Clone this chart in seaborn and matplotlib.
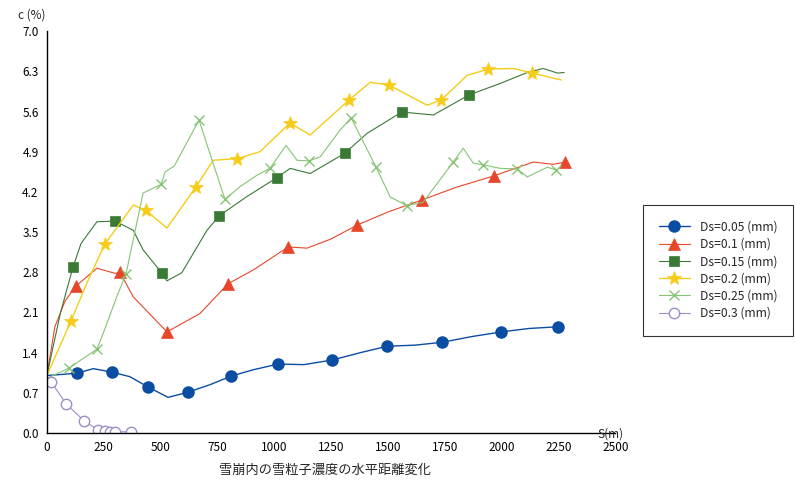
import numpy as np
import pandas as pd
import matplotlib
matplotlib.use("Agg")
import matplotlib.pyplot as plt
import seaborn as sns

# distance S (m) and concentration c (%)
s_005 = [0, 132, 204, 286, 365, 445, 533, 621, 717, 810, 907, 1016, 1130, 1254, 1380, 1496, 1620, 1739, 1870, 1998, 2120, 2249]
c_005 = [1.00, 1.04, 1.12, 1.06, 0.98, 0.80, 0.62, 0.71, 0.84, 0.99, 1.10, 1.20, 1.19, 1.27, 1.40, 1.51, 1.53, 1.58, 1.68, 1.76, 1.82, 1.85]
m_005 = [1, 3, 5, 7, 9, 11, 13, 15, 17, 19, 21]

s_01 = [0, 35, 80, 128, 220, 300, 321, 380, 528, 673, 797, 908, 1061, 1144, 1250, 1364, 1500, 1650, 1800, 1967, 2139, 2227, 2280]
c_01 = [1.00, 1.85, 2.30, 2.56, 2.87, 2.78, 2.80, 2.37, 1.76, 2.08, 2.60, 2.84, 3.24, 3.22, 3.38, 3.62, 3.85, 4.06, 4.28, 4.48, 4.72, 4.68, 4.72]
m_01 = [3, 6, 8, 10, 12, 15, 17, 19, 22]

s_015 = [0, 60, 115, 150, 220, 300, 380, 423, 507, 528, 593, 704, 757, 880, 1013, 1070, 1158, 1309, 1408, 1540, 1563, 1700, 1857, 1994, 2113, 2183, 2245, 2275]
c_015 = [1.00, 2.10, 2.89, 3.30, 3.68, 3.69, 3.53, 3.19, 2.78, 2.65, 2.79, 3.53, 3.78, 4.12, 4.45, 4.61, 4.52, 4.87, 5.22, 5.54, 5.59, 5.54, 5.89, 6.09, 6.28, 6.35, 6.27, 6.28]
m_015 = [2, 5, 8, 12, 14, 17, 20, 22]

s_02 = [0, 106, 180, 255, 380, 435, 528, 656, 731, 838, 937, 1069, 1158, 1329, 1422, 1505, 1672, 1734, 1848, 1941, 2052, 2135, 2262]
c_02 = [1.00, 1.95, 2.65, 3.29, 3.97, 3.88, 3.57, 4.29, 4.75, 4.78, 4.90, 5.40, 5.19, 5.80, 6.11, 6.06, 5.71, 5.80, 6.23, 6.34, 6.35, 6.27, 6.15]
m_02 = [1, 3, 5, 7, 9, 11, 13, 15, 17, 19, 21]

s_025 = [0, 97, 220, 248, 307, 348, 423, 502, 520, 560, 669, 783, 849, 924, 981, 1052, 1100, 1153, 1202, 1290, 1338, 1448, 1510, 1584, 1655, 1787, 1831, 1875, 1919, 1994, 2069, 2113, 2201, 2240]
c_025 = [0.95, 1.13, 1.46, 1.74, 2.37, 2.77, 4.18, 4.33, 4.55, 4.65, 5.45, 4.07, 4.29, 4.49, 4.61, 5.01, 4.75, 4.74, 4.81, 5.28, 5.49, 4.63, 4.11, 3.96, 4.02, 4.72, 4.96, 4.70, 4.67, 4.61, 4.60, 4.46, 4.63, 4.58]
m_025 = [1, 2, 5, 7, 10, 11, 14, 17, 20, 21, 23, 25, 28, 30, 33]

s_03 = [0, 20, 86, 164, 226, 255, 277, 299, 370]
c_03 = [0.95, 0.88, 0.50, 0.21, 0.05, 0.03, 0.02, 0.02, 0.02]
m_03 = [1, 2, 3, 4, 5, 6, 7, 8]

labels = ["Ds=0.05 (mm)", "Ds=0.1 (mm)", "Ds=0.15 (mm)", "Ds=0.2 (mm)", "Ds=0.25 (mm)", "Ds=0.3 (mm)"]
xticks = [0, 250, 500, 750, 1000, 1250, 1500, 1750, 2000, 2250, 2500]
yticks = [0.0, 0.7, 1.4, 2.1, 2.8, 3.5, 4.2, 4.9, 5.6, 6.3, 7.0]

sns.set_style("white")
plt.rcParams['font.family'] = ['Noto Sans CJK JP', 'DejaVu Sans']

fig = plt.figure(figsize=(7.95, 4.87), dpi=100)
ax = fig.add_axes([0.059, 0.111, 0.715, 0.825])

series = [
    (s_005, c_005, m_005, "#0B4DA2", "o", 8, "#0B4DA2", 1.0),
    (s_01, c_01, m_01, "#E8462A", "^", 8, "#E8462A", 0.8),
    (s_015, c_015, m_015, "#3A7A35", "s", 7.5, "#3A7A35", 0.8),
    (s_02, c_02, m_02, "#F5CC1A", "*", 10.5, "#F5CC1A", 1.0),
    (s_025, c_025, m_025, "#86C475", "x", 6.5, "#86C475", 0.8),
    (s_03, c_03, m_03, "#A08CC8", "o", 7.5, "white", 0.8),
]

for (s, c, m, col, mk, ms, fc, lw), lab in zip(series, labels):
    df = pd.DataFrame({"S": s, "c": c})
    sns.lineplot(data=df, x="S", y="c", ax=ax, color=col, lw=lw, marker=mk,
                 markersize=ms, markerfacecolor=fc, markeredgecolor=col,
                 markeredgewidth=1.0 if mk in ("o", "x") else 0.5,
                 markevery=m, label=lab, estimator=None)

ax.set_xlim(0, 2500)
ax.set_ylim(0, 7.0)
ax.set_xticks(xticks)
ax.set_yticks(yticks)
ax.set_yticklabels([f"{v:.1f}" for v in yticks])
ax.tick_params(direction="inout", length=5, width=0.8, labelsize=8.5, colors="black")
ax.set_xlabel("")
ax.set_ylabel("")
for sp in ["top", "right"]:
    ax.spines[sp].set_visible(False)
for sp in ["left", "bottom"]:
    ax.spines[sp].set_color("black")
    ax.spines[sp].set_linewidth(1.0)

fig.text(18 / 795, 1 - 15 / 487, "c (%)", fontsize=8.5, va="center", ha="left")
fig.text(597 / 795, 1 - 434 / 487, "S(m)", fontsize=8.5, va="center", ha="left")
fig.text(325 / 795, 1 - 470 / 487, "雪崩内の雪粒子濃度の水平距離変化", fontsize=9.5, va="center", ha="center")

leg = ax.legend(loc="upper left", bbox_to_anchor=(643 / 795, 1 - 205 / 487), bbox_transform=fig.transFigure,
                frameon=True, fancybox=False, edgecolor="black", fontsize=8.7, handlelength=2.6,
                borderpad=1.3, labelspacing=0.35, borderaxespad=0)
leg.get_frame().set_linewidth(0.8)

fig.savefig("out.png", dpi=100)
